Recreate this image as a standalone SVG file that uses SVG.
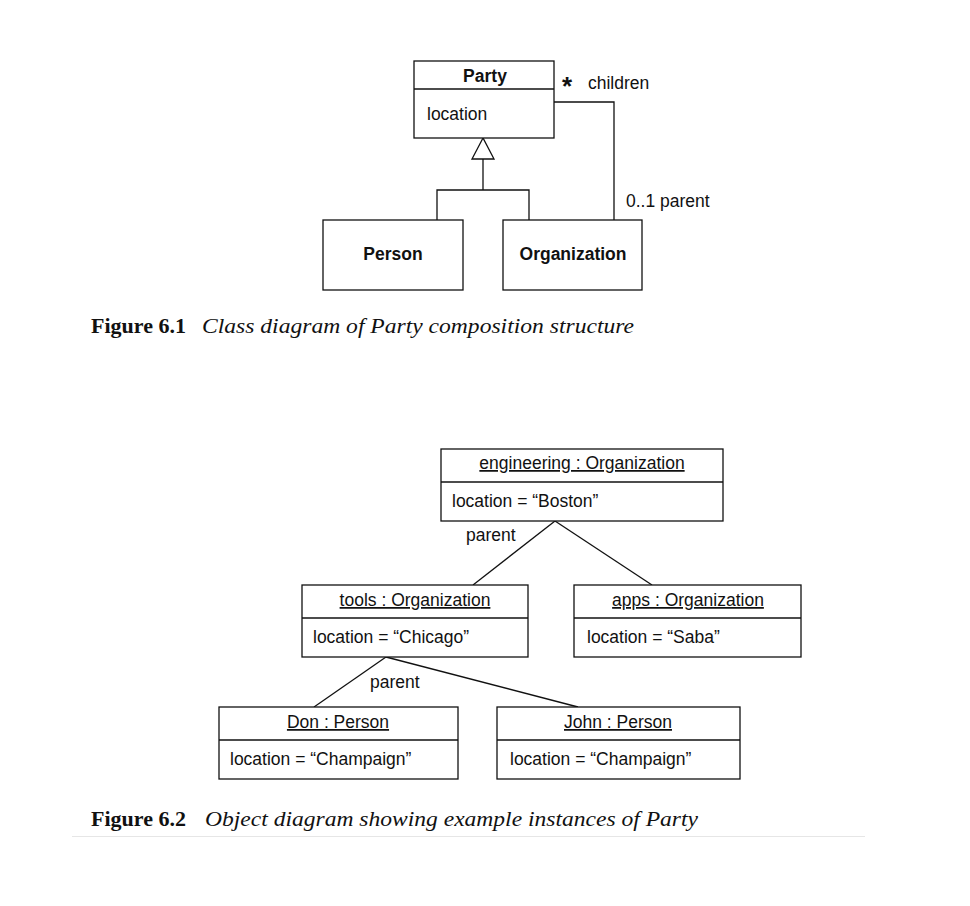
<svg xmlns="http://www.w3.org/2000/svg" width="970" height="906" viewBox="0 0 970 906">
<style>
.box{fill:#fff;stroke:#111;stroke-width:1.3}
.ln{fill:none;stroke:#111;stroke-width:1.3}
.t{font-family:"Liberation Sans",Arial,sans-serif;font-size:17.5px;fill:#111}
.b{font-weight:bold}
.u{text-decoration:underline}
.cap{font-family:"Liberation Serif","Times New Roman",serif;font-size:22px;fill:#111}
</style>
<rect width="970" height="906" fill="#fff"/>
<g id="connectors">
<polyline class="ln" points="554,102 614,102 614,220"/>
<polygon class="box" points="483,138 472,159 494,159"/>
<polyline class="ln" points="483,159 483,190"/>
<polyline class="ln" points="437,220 437,190 529,190 529,220"/>
<line class="ln" x1="555" y1="521" x2="473" y2="585"/>
<line class="ln" x1="555" y1="521" x2="652" y2="585"/>
<line class="ln" x1="386" y1="657" x2="314" y2="707"/>
<line class="ln" x1="386" y1="657" x2="578" y2="707"/>
<text class="t b" x="562" y="95" style="font-size:26px">*</text>
<text class="t" x="588" y="89">children</text>
<text class="t" x="626" y="207">0..1 parent</text>
<text class="t" x="466" y="541">parent</text>
<text class="t" x="370" y="688">parent</text>
</g>
<g id="party">
<rect class="box" x="414" y="61" width="140" height="77"/>
<line class="ln" x1="414" y1="89" x2="554" y2="89"/>
<text class="t b" x="485" y="82" text-anchor="middle">Party</text>
<text class="t" x="427" y="120">location</text>
</g>
<g id="person">
<rect class="box" x="323" y="220" width="140" height="70"/>
<text class="t b" x="393" y="260" text-anchor="middle">Person</text>
</g>
<g id="organization">
<rect class="box" x="503" y="220" width="139" height="70"/>
<text class="t b" x="573" y="260" text-anchor="middle">Organization</text>
</g>
<g id="caption1">
<text class="cap" x="91" y="333" font-weight="bold">Figure 6.1</text>
<text class="cap" x="202" y="333" font-style="italic" textLength="432" lengthAdjust="spacingAndGlyphs">Class diagram of Party composition structure</text>
</g>
<g id="engineering">
<rect class="box" x="441" y="449" width="282" height="72"/>
<line class="ln" x1="441" y1="482" x2="723" y2="482"/>
<text class="t u" x="582" y="469" text-anchor="middle">engineering : Organization</text>
<text class="t" x="452" y="507">location = “Boston”</text>
</g>
<g id="tools">
<rect class="box" x="302" y="585" width="226" height="72"/>
<line class="ln" x1="302" y1="618" x2="528" y2="618"/>
<text class="t u" x="415" y="606" text-anchor="middle">tools : Organization</text>
<text class="t" x="313" y="643">location = “Chicago”</text>
</g>
<g id="apps">
<rect class="box" x="574" y="585" width="227" height="72"/>
<line class="ln" x1="574" y1="618" x2="801" y2="618"/>
<text class="t u" x="688" y="606" text-anchor="middle">apps : Organization</text>
<text class="t" x="587" y="643">location = “Saba”</text>
</g>
<g id="don">
<rect class="box" x="219" y="707" width="239" height="72"/>
<line class="ln" x1="219" y1="740" x2="458" y2="740"/>
<text class="t u" x="338" y="728" text-anchor="middle">Don : Person</text>
<text class="t" x="230" y="765">location = “Champaign”</text>
</g>
<g id="john">
<rect class="box" x="497" y="707" width="243" height="72"/>
<line class="ln" x1="497" y1="740" x2="740" y2="740"/>
<text class="t u" x="618" y="728" text-anchor="middle">John : Person</text>
<text class="t" x="510" y="765">location = “Champaign”</text>
</g>
<g id="caption2">
<text class="cap" x="91" y="826" font-weight="bold">Figure 6.2</text>
<text class="cap" x="205" y="826" font-style="italic" textLength="493" lengthAdjust="spacingAndGlyphs">Object diagram showing example instances of Party</text>
<line x1="72" y1="836.5" x2="865" y2="836.5" stroke="#e6e6e6" stroke-width="1"/>
</g>
</svg>
